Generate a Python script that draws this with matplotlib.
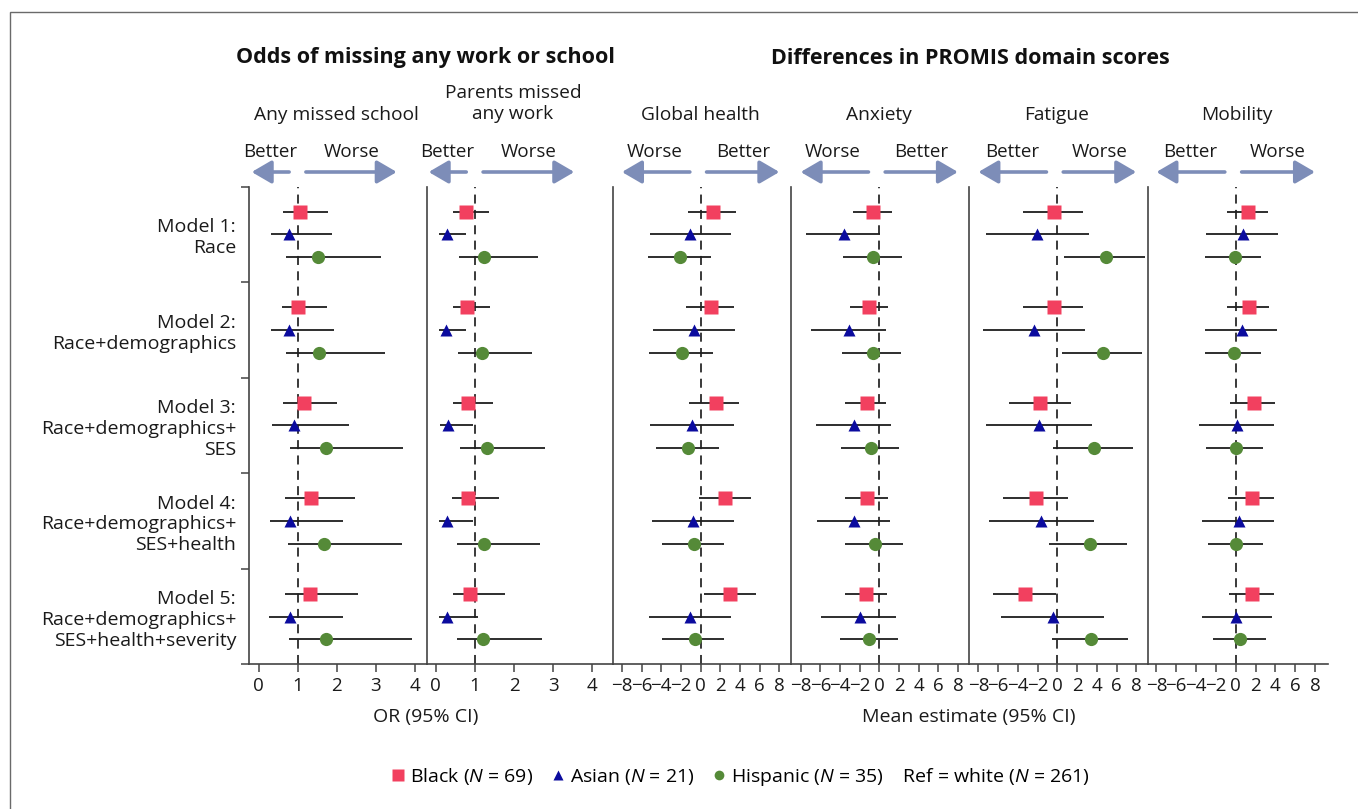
import matplotlib
matplotlib.use("Agg")
import matplotlib.pyplot as plt
import matplotlib.transforms as mtransforms
from matplotlib.lines import Line2D
from matplotlib.patches import Rectangle

plt.rcParams['font.family'] = ['Open Sans', 'DejaVu Sans']
plt.rcParams['mathtext.fontset'] = 'custom'
plt.rcParams['mathtext.it'] = 'Open Sans:italic'
plt.rcParams['mathtext.rm'] = 'Open Sans'

# ---- data (estimate, lower CI, upper CI) per model ----
models = ["Model 1:\nRace",
          "Model 2:\nRace+demographics",
          "Model 3:\nRace+demographics+\nSES",
          "Model 4:\nRace+demographics+\nSES+health",
          "Model 5:\nRace+demographics+\nSES+health+severity"]

school_black = [(1.05, 0.62, 1.77), (1.01, 0.60, 1.74), (1.16, 0.63, 2.02), (1.34, 0.68, 2.47), (1.32, 0.67, 2.54)]
school_asian = [(0.77, 0.32, 1.87), (0.78, 0.32, 1.93), (0.91, 0.34, 2.32), (0.81, 0.30, 2.16), (0.80, 0.27, 2.17)]
school_hisp = [(1.51, 0.70, 3.14), (1.54, 0.69, 3.23), (1.72, 0.79, 3.71), (1.67, 0.75, 3.67), (1.73, 0.77, 3.94)]

work_black = [(0.77, 0.44, 1.35), (0.79, 0.45, 1.39), (0.82, 0.45, 1.47), (0.82, 0.42, 1.61), (0.88, 0.43, 1.77)]
work_asian = [(0.28, 0.09, 0.78), (0.26, 0.09, 0.77), (0.31, 0.10, 0.95), (0.28, 0.09, 0.95), (0.30, 0.09, 1.08)]
work_hisp = [(1.24, 0.60, 2.62), (1.19, 0.56, 2.47), (1.31, 0.62, 2.79), (1.23, 0.54, 2.66), (1.22, 0.54, 2.71)]

global_black = [(1.25, -1.29, 3.62), (1.02, -1.52, 3.35), (1.52, -1.16, 3.92), (2.44, -0.17, 5.08), (2.95, 0.37, 5.59)]
global_asian = [(-1.09, -5.18, 3.11), (-0.68, -4.82, 3.45), (-0.85, -5.12, 3.35), (-0.75, -4.92, 3.35), (-1.09, -5.28, 3.11)]
global_hisp = [(-2.07, -5.39, 1.08), (-1.93, -5.25, 1.22), (-1.26, -4.54, 1.86), (-0.71, -3.96, 2.34), (-0.61, -3.90, 2.37)]

anx_black = [(-0.64, -2.64, 1.26), (-1.05, -2.95, 0.89), (-1.28, -3.49, 0.71), (-1.28, -3.49, 0.85), (-1.38, -3.49, 0.75)]
anx_asian = [(-3.59, -7.46, 0.07), (-3.08, -6.92, 0.68), (-2.57, -6.47, 1.16), (-2.54, -6.34, 1.06), (-1.96, -5.93, 1.73)]
anx_hisp = [(-0.64, -3.73, 2.28), (-0.61, -3.76, 2.18), (-0.84, -3.90, 2.00), (-0.44, -3.52, 2.38), (-1.05, -3.97, 1.90)]

fat_black = [(-0.33, -3.44, 2.60), (-0.33, -3.44, 2.63), (-1.75, -4.86, 1.36), (-2.16, -5.50, 1.05), (-3.27, -6.51, -0.10)]
fat_asian = [(-2.03, -7.22, 3.18), (-2.33, -7.50, 2.81), (-1.82, -7.22, 3.52), (-1.65, -6.89, 3.69), (-0.47, -5.67, 4.70)]
fat_hisp = [(4.90, 0.71, 8.89), (4.63, 0.48, 8.55), (3.75, -0.41, 7.70), (3.28, -0.87, 7.09), (3.41, -0.57, 7.13)]

mob_black = [(1.24, -0.88, 3.26), (1.31, -0.88, 3.36), (1.85, -0.58, 3.94), (1.65, -0.81, 3.90), (1.65, -0.65, 3.83)]
mob_asian = [(0.74, -3.00, 4.27), (0.64, -3.07, 4.20), (0.10, -3.70, 3.90), (0.37, -3.40, 3.90), (0.07, -3.40, 3.66)]
mob_hisp = [(-0.10, -3.10, 2.52), (-0.17, -3.07, 2.52), (0.03, -3.00, 2.79), (0.07, -2.83, 2.72), (0.47, -2.29, 3.03)]

or_ticks = [0, 1, 2, 3, 4]
promis_ticks = [-8, -6, -4, -2, 0, 2, 4, 6, 8]

legend_labels = [r"Black ($\it{N}$ = 69)", r"Asian ($\it{N}$ = 21)",
                 r"Hispanic ($\it{N}$ = 35)    Ref = white ($\it{N}$ = 261)"]

# ---- styling ----
W, H = 1358, 809
colors = ["#F2405F", "#0B0B9E", "#558A38"]
markers = ["s", "^", "o"]
msizes = [10, 8.5, 9.5]
arrow_col = "#7D8DB8"
spine_col = "#444444"
txt_col = "#1a1a1a"
row_off = [-0.236, 0.0, 0.236]

def fx(px):
    return px / W

def fy(py):
    return 1 - py / H

panels = [
    dict(name="Any missed school", data=[school_black, school_asian, school_hisp], ref=1,
         left=249.3, right=426.7, xlim=(-0.241, 4.308), ticks=or_ticks,
         words=("Better", "Worse"), wx=(0.30, 2.38), ax_=((0.78, -0.18), (1.21, 3.54))),
    dict(name="Parents missed\nany work", data=[work_black, work_asian, work_hisp], ref=1,
         left=426.7, right=612.7, xlim=(-0.23, 4.521), ticks=or_ticks,
         words=("Better", "Worse"), wx=(0.30, 2.38), ax_=((0.78, -0.18), (1.21, 3.54))),
    dict(name="Global health", data=[global_black, global_asian, global_hisp], ref=0,
         left=612.7, right=790.7, xlim=(-8.94, 9.15), ticks=promis_ticks,
         words=("Worse", "Better"), wx=(-4.7, 4.3), ax_=((-1.1, -8.0), (0.6, 8.0))),
    dict(name="Anxiety", data=[anx_black, anx_asian, anx_hisp], ref=0,
         left=790.7, right=969.0, xlim=(-9.01, 9.125), ticks=promis_ticks,
         words=("Worse", "Better"), wx=(-4.7, 4.3), ax_=((-1.1, -8.0), (0.6, 8.0))),
    dict(name="Fatigue", data=[fat_black, fat_asian, fat_hisp], ref=0,
         left=969.0, right=1147.7, xlim=(-8.95, 9.16), ticks=promis_ticks,
         words=("Better", "Worse"), wx=(-4.6, 4.25), ax_=((-1.1, -8.0), (0.6, 8.0))),
    dict(name="Mobility", data=[mob_black, mob_asian, mob_hisp], ref=0,
         left=1147.7, right=1328.3, xlim=(-8.88, 9.34), ticks=promis_ticks,
         words=("Better", "Worse"), wx=(-4.6, 4.25), ax_=((-1.1, -8.0), (0.6, 8.0))),
]

top_px, bot_px = 186.7, 664.3
ax_h_px = bot_px - top_px

fig = plt.figure(figsize=(W / 100, H / 100), dpi=100)

for i, p in enumerate(panels):
    ax = fig.add_axes([fx(p["left"]), fy(bot_px), fx(p["right"] - p["left"]), ax_h_px / H])
    ax.set_xlim(p["xlim"])
    ax.set_ylim(4.5, -0.5)
    ax.axvline(p["ref"], color="#2a2a2a", lw=1.3, ls=(0, (5, 3.5)), zorder=1)
    for g, series in enumerate(p["data"]):
        for m, (est, lo, hi) in enumerate(series):
            y = m + row_off[g]
            ax.plot([lo, hi], [y, y], color="#1e1e1e", lw=1.3, zorder=2, solid_capstyle="butt")
            ax.plot(est, y, marker=markers[g], ms=msizes[g], color=colors[g], mec="none", zorder=3)
    for s in ["top", "right"]:
        ax.spines[s].set_visible(False)
    ax.spines["left"].set_color(spine_col)
    ax.spines["bottom"].set_color(spine_col)
    ax.spines["left"].set_linewidth(1.2)
    ax.spines["bottom"].set_linewidth(1.2)
    ax.set_xticks(p["ticks"])
    ax.tick_params(axis="x", length=6, width=1.1, color=spine_col, labelsize=13.5, pad=3.5, labelcolor=txt_col)
    if i == 0:
        ax.set_yticks(range(5))
        ax.set_yticklabels(models, fontsize=14, color=txt_col, linespacing=1.2)
        ax.set_yticks([-0.5, 0.5, 1.5, 2.5, 3.5, 4.5], minor=True)
        ax.tick_params(axis="y", which="major", length=0, pad=9.5)
        ax.tick_params(axis="y", which="minor", length=6, width=1.1, color=spine_col)
    else:
        ax.set_yticks([])

    trans = mtransforms.blended_transform_factory(ax.transData, ax.transAxes)
    arrow_y = 1 + (top_px - 172) / ax_h_px
    word_y = 1 + (top_px - 152) / ax_h_px
    for (tail, tip) in p["ax_"]:
        ax.annotate("", xy=(tip, arrow_y), xytext=(tail, arrow_y), xycoords=trans, textcoords=trans,
                    arrowprops=dict(arrowstyle="-|>,head_length=0.6,head_width=0.35", color=arrow_col,
                                    lw=2.6, shrinkA=0, shrinkB=0, mutation_scale=20),
                    annotation_clip=False)
    ax.text(p["wx"][0], word_y, p["words"][0], transform=trans, ha="center", va="center", fontsize=13.5, color=txt_col)
    ax.text(p["wx"][1], word_y, p["words"][1], transform=trans, ha="center", va="center", fontsize=13.5, color=txt_col)

# panel subtitles
sub_x = [336, 513, 700, 879, 1057, 1237]
for p, x in zip(panels, sub_x):
    yy = 115 if "\n" not in p["name"] else 103.5
    fig.text(fx(x), fy(yy), p["name"], ha="center", va="center", fontsize=13.8, color=txt_col, linespacing=1.2)

fig.text(fx(425), fy(58), "Odds of missing any work or school", ha="center", va="center",
         fontsize=15.5, fontweight="bold", color="#111111")
fig.text(fx(970.5), fy(58), "Differences in PROMIS domain scores", ha="center", va="center",
         fontsize=15.5, fontweight="bold", color="#111111")

fig.text(fx(426), fy(717), "OR (95% CI)", ha="center", va="center", fontsize=14, color=txt_col)
fig.text(fx(969), fy(717), "Mean estimate (95% CI)", ha="center", va="center", fontsize=14, color=txt_col)

handles = [Line2D([], [], ls="none", marker=markers[g], color=colors[g], ms=ms, mec="none")
           for g, ms in enumerate([8, 6.5, 7])]
fig.legend(handles, legend_labels, loc="center", bbox_to_anchor=(fx(741), fy(777)), ncol=3,
           frameon=False, fontsize=14, handlelength=0.6, handletextpad=0.3, columnspacing=1.0)

fig.patches.append(Rectangle((fx(10), -0.1), 1.2, fy(12) + 0.1, transform=fig.transFigure,
                             fill=False, ec="#6a6a6a", lw=1.0))

fig.savefig("out.png", dpi=100)
